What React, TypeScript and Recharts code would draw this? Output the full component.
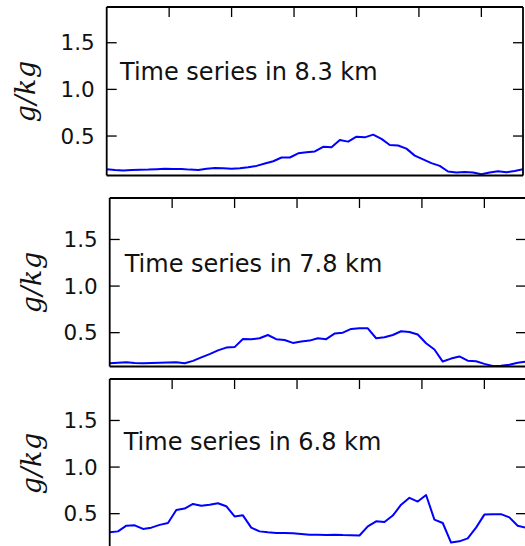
import { LineChart, Line, XAxis, YAxis } from "recharts";

// time axis (arbitrary units, ticks every 15)
const time = [
  0, 2, 4, 6, 8, 10, 12, 14, 16, 18, 20, 22, 24, 26, 28, 30, 32, 34, 36, 38, 40, 42, 44, 46, 48, 50,
  52, 54, 56, 58, 60, 62, 64, 66, 68, 70, 72, 74, 76, 78, 80, 82, 84, 86, 88, 90, 92, 94, 96, 98, 100,
];

const q83 = [
  0.143, 0.135, 0.13, 0.135, 0.138, 0.14, 0.145, 0.15, 0.148, 0.147, 0.14, 0.136, 0.15, 0.157, 0.155, 0.15,
  0.155, 0.165, 0.18, 0.205, 0.23, 0.27, 0.27, 0.315, 0.325, 0.335, 0.385, 0.38, 0.457, 0.44, 0.493, 0.486,
  0.515, 0.47, 0.404, 0.398, 0.365, 0.29, 0.25, 0.21, 0.18, 0.12, 0.11, 0.115, 0.11, 0.09, 0.11, 0.122,
  0.112, 0.125, 0.143,
];

const q78 = [
  0.172, 0.178, 0.183, 0.175, 0.172, 0.175, 0.178, 0.18, 0.183, 0.172, 0.197, 0.235, 0.27, 0.31, 0.34, 0.345,
  0.432, 0.43, 0.44, 0.475, 0.43, 0.422, 0.39, 0.405, 0.415, 0.44, 0.43, 0.49, 0.5, 0.54, 0.547, 0.547,
  0.44, 0.45, 0.475, 0.515, 0.508, 0.48, 0.386, 0.32, 0.19, 0.222, 0.245, 0.2, 0.193, 0.165, 0.143, 0.146,
  0.155, 0.178, 0.19,
];

const q68 = [
  0.3, 0.31, 0.371, 0.375, 0.336, 0.35, 0.38, 0.4, 0.54, 0.555, 0.604, 0.585, 0.595, 0.612, 0.58, 0.47,
  0.482, 0.35, 0.31, 0.3, 0.293, 0.293, 0.29, 0.282, 0.275, 0.275, 0.27, 0.275, 0.27, 0.268, 0.266, 0.364,
  0.418, 0.41, 0.48, 0.596, 0.67, 0.63, 0.7, 0.436, 0.4, 0.19, 0.203, 0.235, 0.35, 0.49, 0.495, 0.495,
  0.46, 0.37, 0.35,
];

const yTicks = [0.5, 1.0, 1.5];
const xTicks = [15, 30, 45, 60, 75, 90];

const FONT = "DejaVu Sans";
const W = 525;
const H = 177.5;
const PLOT_TOP = 7;
const PLOT_H = 168.5;
const LEFT_W = 106.7;
const axisStyle = { stroke: "#000", strokeWidth: 1.8 };

function TopTick(props: any) {
  const { x, y } = props;
  return <line x1={x} y1={y} x2={x} y2={y + 10} stroke="#000" strokeWidth={1.3} />;
}

function LeftTick(props: any) {
  const { x, y, payload } = props;
  return (
    <g>
      <line x1={x} y1={y} x2={x + 10} y2={y} stroke="#000" strokeWidth={1.3} />
      <text x={x - 12} y={y} dy="0.36em" textAnchor="end" fontFamily={FONT} fontSize={21.5} fill="#111">
        {Number(payload.value).toFixed(1)}
      </text>
    </g>
  );
}

function RightTick(props: any) {
  const { x, y } = props;
  return <line x1={x - 10} y1={y} x2={x} y2={y} stroke="#000" strokeWidth={1.3} />;
}

function Panel({ values, yDomain, title, titleDx, titleDy, labelX, top, left }: any) {
  const data = time.map((t, i) => ({ t, q: values[i] }));
  const cy = PLOT_TOP + PLOT_H / 2;
  return (
    <div style={{ position: "absolute", top, left }}>
      <LineChart width={W} height={H} data={data} margin={{ top: 5, right: 0, bottom: 0, left: 0 }}>
        <XAxis
          xAxisId="top"
          orientation="top"
          dataKey="t"
          type="number"
          domain={[0, 100]}
          ticks={xTicks}
          height={2}
          tickSize={0}
          tickMargin={0}
          tick={<TopTick />}
          tickLine={false}
          axisLine={axisStyle}
          allowDataOverflow
        />
        <XAxis
          xAxisId="bottom"
          orientation="bottom"
          dataKey="t"
          type="number"
          domain={[0, 100]}
          height={2}
          tick={false}
          tickLine={false}
          axisLine={axisStyle}
          allowDataOverflow
        />
        <YAxis
          yAxisId="left"
          type="number"
          domain={yDomain}
          ticks={yTicks}
          width={LEFT_W}
          tickSize={0}
          tickMargin={0}
          tick={<LeftTick />}
          tickLine={false}
          axisLine={axisStyle}
          allowDataOverflow
        />
        <YAxis
          yAxisId="right"
          orientation="right"
          type="number"
          domain={yDomain}
          ticks={yTicks}
          width={2}
          tickSize={0}
          tickMargin={0}
          tick={<RightTick />}
          tickLine={false}
          axisLine={axisStyle}
          allowDataOverflow
        />
        <Line
          xAxisId="top"
          yAxisId="left"
          dataKey="q"
          type="linear"
          stroke="#0000ff"
          strokeWidth={2}
          strokeLinejoin="round"
          dot={false}
          activeDot={false}
          isAnimationActive={false}
        />
        <text x={LEFT_W + titleDx} y={PLOT_TOP + titleDy} fontFamily={FONT} fontSize={24} fill="#111">
          {title}
        </text>
        <text
          x={labelX}
          y={cy}
          transform={`rotate(-90 ${labelX} ${cy})`}
          textAnchor="middle"
          dy="0.3em"
          fontFamily="DejaVu Serif"
          fontStyle="italic"
          fontSize={27}
          letterSpacing={0.5}
          fill="#111"
        >
          g/kg
        </text>
      </LineChart>
    </div>
  );
}

export default function App() {
  return (
    <div
      style={{
        position: "absolute",
        left: 0,
        top: 0,
        width: 525,
        height: 546,
        overflow: "hidden",
        background: "#fff",
      }}
    >
      <Panel values={q83} yDomain={[0.077, 1.883]} title="Time series in 8.3 km" titleDx={13.3} titleDy={73} labelX={27} top={0} left={0} />
      <Panel values={q78} yDomain={[0.137, 1.945]} title="Time series in 7.8 km" titleDx={15} titleDy={74} labelX={30} top={191.3} left={3.3} />
      <Panel values={q68} yDomain={[0.137, 1.945]} title="Time series in 6.8 km" titleDx={14} titleDy={70.7} labelX={30} top={372.3} left={3.3} />
    </div>
  );
}
